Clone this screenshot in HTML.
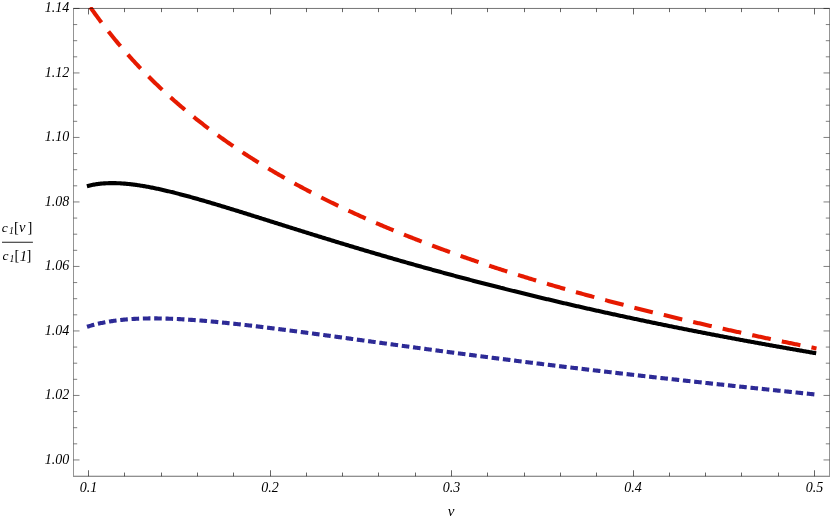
<!DOCTYPE html>
<html><head><meta charset="utf-8"><style>
html,body{margin:0;padding:0;background:#fff;}
svg{display:block;will-change:transform;}
text{font-family:"Liberation Serif",serif;font-style:italic;fill:#000;}
</style></head><body>
<svg width="830" height="519" viewBox="0 0 830 519">
<rect width="830" height="519" fill="#fff"/>
<defs><clipPath id="c"><rect x="73.5" y="7.05" width="756.5" height="469.2"/></clipPath></defs>
<g clip-path="url(#c)" fill="none" stroke-width="4.1" stroke-linejoin="round">
<path d="M87.00 326.81 L88.00 326.50 L89.00 326.19 L90.00 325.89 L91.00 325.60 L92.00 325.31 L93.00 325.04 L94.00 324.77 L95.00 324.51 L96.00 324.25 L97.00 324.01 L98.00 323.77 L99.00 323.54 L100.00 323.31 L101.00 323.10 L102.00 322.88 L103.00 322.68 L104.00 322.48 L105.00 322.29 L106.00 322.10 L107.00 321.92 L108.00 321.74 L109.00 321.58 L110.00 321.41 L111.00 321.25 L112.00 321.10 L113.00 320.95 L114.00 320.81 L115.00 320.67 L116.00 320.54 L117.00 320.41 L118.00 320.29 L119.00 320.17 L120.00 320.06 L121.00 319.95 L122.00 319.85 L123.00 319.75 L124.00 319.65 L125.00 319.56 L126.00 319.47 L127.00 319.39 L128.00 319.31 L129.00 319.23 L130.00 319.16 L131.00 319.09 L132.00 319.02 L133.00 318.96 L134.00 318.91 L135.00 318.85 L136.00 318.80 L137.00 318.75 L138.00 318.71 L139.00 318.67 L140.00 318.63 L141.00 318.60 L142.00 318.56 L143.00 318.54 L144.00 318.51 L145.00 318.49 L146.00 318.47 L147.00 318.45 L148.00 318.43 L149.00 318.42 L150.00 318.41 L151.00 318.41 L152.00 318.40 L153.00 318.40 L154.00 318.40 L155.00 318.41 L156.00 318.41 L157.00 318.42 L158.00 318.43 L159.00 318.44 L160.00 318.46 L161.00 318.47 L162.00 318.49 L163.00 318.51 L164.00 318.54 L165.00 318.56 L166.00 318.59 L167.00 318.62 L168.00 318.65 L169.00 318.68 L170.00 318.72 L171.00 318.76 L172.00 318.79 L173.00 318.84 L174.00 318.88 L175.00 318.92 L176.00 318.97 L177.00 319.01 L178.00 319.06 L179.00 319.11 L180.00 319.17 L181.00 319.22 L182.00 319.27 L183.00 319.33 L184.00 319.39 L185.00 319.45 L186.00 319.51 L187.00 319.57 L188.00 319.64 L189.00 319.70 L190.00 319.77 L191.00 319.84 L192.00 319.90 L193.00 319.98 L194.00 320.05 L195.00 320.12 L196.00 320.19 L197.00 320.27 L198.00 320.35 L199.00 320.42 L200.00 320.50 L201.00 320.58 L202.00 320.66 L203.00 320.74 L204.00 320.83 L205.00 320.91 L206.00 321.00 L207.00 321.08 L208.00 321.17 L209.00 321.26 L210.00 321.35 L211.00 321.44 L212.00 321.53 L213.00 321.62 L214.00 321.71 L215.00 321.81 L216.00 321.90 L217.00 322.00 L218.00 322.09 L219.00 322.19 L220.00 322.29 L221.00 322.39 L222.00 322.49 L223.00 322.59 L224.00 322.69 L225.00 322.79 L226.00 322.89 L227.00 322.99 L228.00 323.10 L229.00 323.20 L230.00 323.31 L231.00 323.41 L232.00 323.52 L233.00 323.63 L234.00 323.74 L235.00 323.84 L236.00 323.95 L237.00 324.06 L238.00 324.17 L239.00 324.28 L240.00 324.40 L241.00 324.51 L242.00 324.62 L243.00 324.73 L244.00 324.85 L245.00 324.96 L246.00 325.08 L247.00 325.19 L248.00 325.31 L249.00 325.42 L250.00 325.54 L251.00 325.66 L252.00 325.78 L253.00 325.89 L254.00 326.01 L255.00 326.13 L256.00 326.25 L257.00 326.37 L258.00 326.49 L259.00 326.61 L260.00 326.73 L261.00 326.86 L262.00 326.98 L263.00 327.10 L264.00 327.22 L265.00 327.35 L266.00 327.47 L267.00 327.59 L268.00 327.72 L269.00 327.84 L270.00 327.97 L271.00 328.09 L272.00 328.22 L273.00 328.35 L274.00 328.47 L275.00 328.60 L276.00 328.73 L277.00 328.85 L278.00 328.98 L279.00 329.11 L280.00 329.24 L281.00 329.36 L282.00 329.49 L283.00 329.62 L284.00 329.75 L285.00 329.88 L286.00 330.01 L287.00 330.14 L288.00 330.27 L289.00 330.40 L290.00 330.53 L291.00 330.66 L292.00 330.79 L293.00 330.92 L294.00 331.06 L295.00 331.19 L296.00 331.32 L297.00 331.45 L298.00 331.58 L299.00 331.72 L300.00 331.85 L301.00 331.98 L302.00 332.11 L303.00 332.25 L304.00 332.38 L305.00 332.51 L306.00 332.65 L307.00 332.78 L308.00 332.92 L309.00 333.05 L310.00 333.18 L311.00 333.32 L312.00 333.45 L313.00 333.59 L314.00 333.72 L315.00 333.86 L316.00 333.99 L317.00 334.13 L318.00 334.26 L319.00 334.40 L320.00 334.53 L321.00 334.67 L322.00 334.80 L323.00 334.94 L324.00 335.08 L325.00 335.21 L326.00 335.35 L327.00 335.48 L328.00 335.62 L329.00 335.76 L330.00 335.89 L331.00 336.03 L332.00 336.17 L333.00 336.30 L334.00 336.44 L335.00 336.58 L336.00 336.71 L337.00 336.85 L338.00 336.99 L339.00 337.12 L340.00 337.26 L341.00 337.40 L342.00 337.53 L343.00 337.67 L344.00 337.81 L345.00 337.95 L346.00 338.08 L347.00 338.22 L348.00 338.36 L349.00 338.50 L350.00 338.63 L351.00 338.77 L352.00 338.91 L353.00 339.05 L354.00 339.18 L355.00 339.32 L356.00 339.46 L357.00 339.60 L358.00 339.73 L359.00 339.87 L360.00 340.01 L361.00 340.15 L362.00 340.28 L363.00 340.42 L364.00 340.56 L365.00 340.70 L366.00 340.83 L367.00 340.97 L368.00 341.11 L369.00 341.25 L370.00 341.38 L371.00 341.52 L372.00 341.66 L373.00 341.80 L374.00 341.93 L375.00 342.07 L376.00 342.21 L377.00 342.35 L378.00 342.48 L379.00 342.62 L380.00 342.76 L381.00 342.90 L382.00 343.03 L383.00 343.17 L384.00 343.31 L385.00 343.44 L386.00 343.58 L387.00 343.72 L388.00 343.86 L389.00 343.99 L390.00 344.13 L391.00 344.27 L392.00 344.40 L393.00 344.54 L394.00 344.68 L395.00 344.81 L396.00 344.95 L397.00 345.09 L398.00 345.22 L399.00 345.36 L400.00 345.50 L401.00 345.63 L402.00 345.77 L403.00 345.91 L404.00 346.04 L405.00 346.18 L406.00 346.32 L407.00 346.45 L408.00 346.59 L409.00 346.72 L410.00 346.86 L411.00 347.00 L412.00 347.13 L413.00 347.27 L414.00 347.40 L415.00 347.54 L416.00 347.67 L417.00 347.81 L418.00 347.95 L419.00 348.08 L420.00 348.22 L421.00 348.35 L422.00 348.49 L423.00 348.62 L424.00 348.76 L425.00 348.89 L426.00 349.03 L427.00 349.16 L428.00 349.30 L429.00 349.43 L430.00 349.57 L431.00 349.70 L432.00 349.83 L433.00 349.97 L434.00 350.10 L435.00 350.24 L436.00 350.37 L437.00 350.50 L438.00 350.64 L439.00 350.77 L440.00 350.91 L441.00 351.04 L442.00 351.17 L443.00 351.31 L444.00 351.44 L445.00 351.57 L446.00 351.71 L447.00 351.84 L448.00 351.97 L449.00 352.11 L450.00 352.24 L451.00 352.37 L452.00 352.50 L453.00 352.64 L454.00 352.77 L455.00 352.90 L456.00 353.03 L457.00 353.17 L458.00 353.30 L459.00 353.43 L460.00 353.56 L461.00 353.69 L462.00 353.83 L463.00 353.96 L464.00 354.09 L465.00 354.22 L466.00 354.35 L467.00 354.48 L468.00 354.61 L469.00 354.75 L470.00 354.88 L471.00 355.01 L472.00 355.14 L473.00 355.27 L474.00 355.40 L475.00 355.53 L476.00 355.66 L477.00 355.79 L478.00 355.92 L479.00 356.05 L480.00 356.18 L481.00 356.31 L482.00 356.44 L483.00 356.57 L484.00 356.70 L485.00 356.83 L486.00 356.96 L487.00 357.09 L488.00 357.22 L489.00 357.35 L490.00 357.47 L491.00 357.60 L492.00 357.73 L493.00 357.86 L494.00 357.99 L495.00 358.12 L496.00 358.25 L497.00 358.37 L498.00 358.50 L499.00 358.63 L500.00 358.76 L501.00 358.89 L502.00 359.01 L503.00 359.14 L504.00 359.27 L505.00 359.40 L506.00 359.52 L507.00 359.65 L508.00 359.78 L509.00 359.90 L510.00 360.03 L511.00 360.16 L512.00 360.28 L513.00 360.41 L514.00 360.54 L515.00 360.66 L516.00 360.79 L517.00 360.92 L518.00 361.04 L519.00 361.17 L520.00 361.29 L521.00 361.42 L522.00 361.55 L523.00 361.67 L524.00 361.80 L525.00 361.92 L526.00 362.05 L527.00 362.17 L528.00 362.30 L529.00 362.42 L530.00 362.55 L531.00 362.67 L532.00 362.79 L533.00 362.92 L534.00 363.04 L535.00 363.17 L536.00 363.29 L537.00 363.42 L538.00 363.54 L539.00 363.66 L540.00 363.79 L541.00 363.91 L542.00 364.03 L543.00 364.16 L544.00 364.28 L545.00 364.40 L546.00 364.53 L547.00 364.65 L548.00 364.77 L549.00 364.89 L550.00 365.02 L551.00 365.14 L552.00 365.26 L553.00 365.38 L554.00 365.51 L555.00 365.63 L556.00 365.75 L557.00 365.87 L558.00 365.99 L559.00 366.11 L560.00 366.24 L561.00 366.36 L562.00 366.48 L563.00 366.60 L564.00 366.72 L565.00 366.84 L566.00 366.96 L567.00 367.08 L568.00 367.20 L569.00 367.32 L570.00 367.44 L571.00 367.57 L572.00 367.69 L573.00 367.81 L574.00 367.93 L575.00 368.05 L576.00 368.16 L577.00 368.28 L578.00 368.40 L579.00 368.52 L580.00 368.64 L581.00 368.76 L582.00 368.88 L583.00 369.00 L584.00 369.12 L585.00 369.24 L586.00 369.36 L587.00 369.48 L588.00 369.59 L589.00 369.71 L590.00 369.83 L591.00 369.95 L592.00 370.07 L593.00 370.19 L594.00 370.30 L595.00 370.42 L596.00 370.54 L597.00 370.66 L598.00 370.77 L599.00 370.89 L600.00 371.01 L601.00 371.13 L602.00 371.24 L603.00 371.36 L604.00 371.48 L605.00 371.59 L606.00 371.71 L607.00 371.83 L608.00 371.94 L609.00 372.06 L610.00 372.18 L611.00 372.29 L612.00 372.41 L613.00 372.53 L614.00 372.64 L615.00 372.76 L616.00 372.87 L617.00 372.99 L618.00 373.10 L619.00 373.22 L620.00 373.34 L621.00 373.45 L622.00 373.57 L623.00 373.68 L624.00 373.80 L625.00 373.91 L626.00 374.03 L627.00 374.14 L628.00 374.25 L629.00 374.37 L630.00 374.48 L631.00 374.60 L632.00 374.71 L633.00 374.83 L634.00 374.94 L635.00 375.05 L636.00 375.17 L637.00 375.28 L638.00 375.40 L639.00 375.51 L640.00 375.62 L641.00 375.74 L642.00 375.85 L643.00 375.96 L644.00 376.08 L645.00 376.19 L646.00 376.30 L647.00 376.42 L648.00 376.53 L649.00 376.64 L650.00 376.75 L651.00 376.87 L652.00 376.98 L653.00 377.09 L654.00 377.20 L655.00 377.32 L656.00 377.43 L657.00 377.54 L658.00 377.65 L659.00 377.76 L660.00 377.88 L661.00 377.99 L662.00 378.10 L663.00 378.21 L664.00 378.32 L665.00 378.43 L666.00 378.55 L667.00 378.66 L668.00 378.77 L669.00 378.88 L670.00 378.99 L671.00 379.10 L672.00 379.21 L673.00 379.32 L674.00 379.43 L675.00 379.54 L676.00 379.65 L677.00 379.77 L678.00 379.88 L679.00 379.99 L680.00 380.10 L681.00 380.21 L682.00 380.32 L683.00 380.43 L684.00 380.54 L685.00 380.65 L686.00 380.76 L687.00 380.87 L688.00 380.98 L689.00 381.08 L690.00 381.19 L691.00 381.30 L692.00 381.41 L693.00 381.52 L694.00 381.63 L695.00 381.74 L696.00 381.85 L697.00 381.96 L698.00 382.07 L699.00 382.18 L700.00 382.29 L701.00 382.39 L702.00 382.50 L703.00 382.61 L704.00 382.72 L705.00 382.83 L706.00 382.94 L707.00 383.05 L708.00 383.15 L709.00 383.26 L710.00 383.37 L711.00 383.48 L712.00 383.59 L713.00 383.69 L714.00 383.80 L715.00 383.91 L716.00 384.02 L717.00 384.12 L718.00 384.23 L719.00 384.34 L720.00 384.45 L721.00 384.55 L722.00 384.66 L723.00 384.77 L724.00 384.88 L725.00 384.98 L726.00 385.09 L727.00 385.20 L728.00 385.31 L729.00 385.41 L730.00 385.52 L731.00 385.63 L732.00 385.73 L733.00 385.84 L734.00 385.95 L735.00 386.05 L736.00 386.16 L737.00 386.27 L738.00 386.37 L739.00 386.48 L740.00 386.59 L741.00 386.69 L742.00 386.80 L743.00 386.90 L744.00 387.01 L745.00 387.12 L746.00 387.22 L747.00 387.33 L748.00 387.43 L749.00 387.54 L750.00 387.65 L751.00 387.75 L752.00 387.86 L753.00 387.96 L754.00 388.07 L755.00 388.17 L756.00 388.28 L757.00 388.39 L758.00 388.49 L759.00 388.60 L760.00 388.70 L761.00 388.81 L762.00 388.91 L763.00 389.02 L764.00 389.12 L765.00 389.23 L766.00 389.33 L767.00 389.44 L768.00 389.54 L769.00 389.65 L770.00 389.75 L771.00 389.86 L772.00 389.96 L773.00 390.07 L774.00 390.17 L775.00 390.28 L776.00 390.38 L777.00 390.49 L778.00 390.59 L779.00 390.70 L780.00 390.80 L781.00 390.90 L782.00 391.01 L783.00 391.11 L784.00 391.22 L785.00 391.32 L786.00 391.43 L787.00 391.53 L788.00 391.64 L789.00 391.74 L790.00 391.84 L791.00 391.95 L792.00 392.05 L793.00 392.16 L794.00 392.26 L795.00 392.36 L796.00 392.47 L797.00 392.57 L798.00 392.68 L799.00 392.78 L800.00 392.88 L801.00 392.99 L802.00 393.09 L803.00 393.20 L804.00 393.30 L805.00 393.40 L806.00 393.51 L807.00 393.61 L808.00 393.72 L809.00 393.82 L810.00 393.92 L811.00 394.03 L812.00 394.13 L813.00 394.23 L814.00 394.34 L815.00 394.44" stroke="rgb(45,42,150)" stroke-dasharray="7.6 3.73"/>
<path d="M86.90 186.17 L87.90 185.91 L88.90 185.66 L89.90 185.43 L90.90 185.21 L91.90 185.00 L92.90 184.80 L93.90 184.62 L94.90 184.45 L95.90 184.29 L96.90 184.14 L97.90 184.00 L98.90 183.87 L99.90 183.76 L100.90 183.65 L101.90 183.56 L102.90 183.47 L103.90 183.40 L104.90 183.33 L105.90 183.27 L106.90 183.22 L107.90 183.18 L108.90 183.15 L109.90 183.13 L110.90 183.12 L111.90 183.11 L112.90 183.11 L113.90 183.12 L114.90 183.13 L115.90 183.16 L116.90 183.19 L117.90 183.22 L118.90 183.27 L119.90 183.32 L120.90 183.38 L121.90 183.44 L122.90 183.51 L123.90 183.58 L124.90 183.66 L125.90 183.75 L126.90 183.84 L127.90 183.94 L128.90 184.04 L129.90 184.15 L130.90 184.26 L131.90 184.38 L132.90 184.50 L133.90 184.63 L134.90 184.76 L135.90 184.90 L136.90 185.04 L137.90 185.19 L138.90 185.34 L139.90 185.49 L140.90 185.65 L141.90 185.81 L142.90 185.98 L143.90 186.14 L144.90 186.32 L145.90 186.49 L146.90 186.67 L147.90 186.86 L148.90 187.04 L149.90 187.23 L150.90 187.43 L151.90 187.62 L152.90 187.82 L153.90 188.03 L154.90 188.23 L155.90 188.44 L156.90 188.65 L157.90 188.87 L158.90 189.08 L159.90 189.30 L160.90 189.52 L161.90 189.75 L162.90 189.97 L163.90 190.20 L164.90 190.43 L165.90 190.67 L166.90 190.90 L167.90 191.14 L168.90 191.38 L169.90 191.62 L170.90 191.87 L171.90 192.11 L172.90 192.36 L173.90 192.61 L174.90 192.87 L175.90 193.12 L176.90 193.37 L177.90 193.63 L178.90 193.89 L179.90 194.15 L180.90 194.41 L181.90 194.68 L182.90 194.94 L183.90 195.21 L184.90 195.48 L185.90 195.75 L186.90 196.02 L187.90 196.29 L188.90 196.56 L189.90 196.84 L190.90 197.12 L191.90 197.39 L192.90 197.67 L193.90 197.95 L194.90 198.23 L195.90 198.52 L196.90 198.80 L197.90 199.08 L198.90 199.37 L199.90 199.66 L200.90 199.94 L201.90 200.23 L202.90 200.52 L203.90 200.81 L204.90 201.10 L205.90 201.39 L206.90 201.69 L207.90 201.98 L208.90 202.28 L209.90 202.57 L210.90 202.87 L211.90 203.16 L212.90 203.46 L213.90 203.76 L214.90 204.06 L215.90 204.36 L216.90 204.66 L217.90 204.96 L218.90 205.26 L219.90 205.56 L220.90 205.87 L221.90 206.17 L222.90 206.47 L223.90 206.78 L224.90 207.08 L225.90 207.39 L226.90 207.69 L227.90 208.00 L228.90 208.30 L229.90 208.61 L230.90 208.92 L231.90 209.23 L232.90 209.54 L233.90 209.84 L234.90 210.15 L235.90 210.46 L236.90 210.77 L237.90 211.08 L238.90 211.39 L239.90 211.70 L240.90 212.01 L241.90 212.32 L242.90 212.64 L243.90 212.95 L244.90 213.26 L245.90 213.57 L246.90 213.88 L247.90 214.20 L248.90 214.51 L249.90 214.82 L250.90 215.14 L251.90 215.45 L252.90 215.76 L253.90 216.08 L254.90 216.39 L255.90 216.70 L256.90 217.02 L257.90 217.33 L258.90 217.65 L259.90 217.96 L260.90 218.27 L261.90 218.59 L262.90 218.90 L263.90 219.22 L264.90 219.53 L265.90 219.85 L266.90 220.16 L267.90 220.48 L268.90 220.79 L269.90 221.11 L270.90 221.42 L271.90 221.74 L272.90 222.05 L273.90 222.37 L274.90 222.68 L275.90 223.00 L276.90 223.31 L277.90 223.63 L278.90 223.94 L279.90 224.26 L280.90 224.57 L281.90 224.88 L282.90 225.20 L283.90 225.51 L284.90 225.83 L285.90 226.14 L286.90 226.46 L287.90 226.77 L288.90 227.09 L289.90 227.40 L290.90 227.71 L291.90 228.03 L292.90 228.34 L293.90 228.65 L294.90 228.97 L295.90 229.28 L296.90 229.59 L297.90 229.91 L298.90 230.22 L299.90 230.53 L300.90 230.85 L301.90 231.16 L302.90 231.47 L303.90 231.78 L304.90 232.09 L305.90 232.41 L306.90 232.72 L307.90 233.03 L308.90 233.34 L309.90 233.65 L310.90 233.96 L311.90 234.27 L312.90 234.59 L313.90 234.90 L314.90 235.21 L315.90 235.52 L316.90 235.83 L317.90 236.14 L318.90 236.44 L319.90 236.75 L320.90 237.06 L321.90 237.37 L322.90 237.68 L323.90 237.99 L324.90 238.30 L325.90 238.60 L326.90 238.91 L327.90 239.22 L328.90 239.53 L329.90 239.83 L330.90 240.14 L331.90 240.45 L332.90 240.75 L333.90 241.06 L334.90 241.37 L335.90 241.67 L336.90 241.98 L337.90 242.28 L338.90 242.59 L339.90 242.89 L340.90 243.19 L341.90 243.50 L342.90 243.80 L343.90 244.11 L344.90 244.41 L345.90 244.71 L346.90 245.01 L347.90 245.32 L348.90 245.62 L349.90 245.92 L350.90 246.22 L351.90 246.52 L352.90 246.82 L353.90 247.13 L354.90 247.43 L355.90 247.73 L356.90 248.03 L357.90 248.33 L358.90 248.63 L359.90 248.92 L360.90 249.22 L361.90 249.52 L362.90 249.82 L363.90 250.12 L364.90 250.41 L365.90 250.71 L366.90 251.01 L367.90 251.31 L368.90 251.60 L369.90 251.90 L370.90 252.19 L371.90 252.49 L372.90 252.78 L373.90 253.08 L374.90 253.37 L375.90 253.67 L376.90 253.96 L377.90 254.26 L378.90 254.55 L379.90 254.84 L380.90 255.13 L381.90 255.43 L382.90 255.72 L383.90 256.01 L384.90 256.30 L385.90 256.59 L386.90 256.88 L387.90 257.17 L388.90 257.46 L389.90 257.75 L390.90 258.04 L391.90 258.33 L392.90 258.62 L393.90 258.91 L394.90 259.20 L395.90 259.49 L396.90 259.77 L397.90 260.06 L398.90 260.35 L399.90 260.63 L400.90 260.92 L401.90 261.21 L402.90 261.49 L403.90 261.78 L404.90 262.06 L405.90 262.35 L406.90 262.63 L407.90 262.91 L408.90 263.20 L409.90 263.48 L410.90 263.76 L411.90 264.05 L412.90 264.33 L413.90 264.61 L414.90 264.89 L415.90 265.17 L416.90 265.46 L417.90 265.74 L418.90 266.02 L419.90 266.30 L420.90 266.58 L421.90 266.86 L422.90 267.13 L423.90 267.41 L424.90 267.69 L425.90 267.97 L426.90 268.25 L427.90 268.52 L428.90 268.80 L429.90 269.08 L430.90 269.35 L431.90 269.63 L432.90 269.91 L433.90 270.18 L434.90 270.46 L435.90 270.73 L436.90 271.00 L437.90 271.28 L438.90 271.55 L439.90 271.83 L440.90 272.10 L441.90 272.37 L442.90 272.64 L443.90 272.92 L444.90 273.19 L445.90 273.46 L446.90 273.73 L447.90 274.00 L448.90 274.27 L449.90 274.54 L450.90 274.81 L451.90 275.08 L452.90 275.35 L453.90 275.62 L454.90 275.88 L455.90 276.15 L456.90 276.42 L457.90 276.69 L458.90 276.95 L459.90 277.22 L460.90 277.49 L461.90 277.75 L462.90 278.02 L463.90 278.28 L464.90 278.55 L465.90 278.81 L466.90 279.08 L467.90 279.34 L468.90 279.60 L469.90 279.87 L470.90 280.13 L471.90 280.39 L472.90 280.65 L473.90 280.92 L474.90 281.18 L475.90 281.44 L476.90 281.70 L477.90 281.96 L478.90 282.22 L479.90 282.48 L480.90 282.74 L481.90 283.00 L482.90 283.26 L483.90 283.51 L484.90 283.77 L485.90 284.03 L486.90 284.29 L487.90 284.55 L488.90 284.80 L489.90 285.06 L490.90 285.31 L491.90 285.57 L492.90 285.83 L493.90 286.08 L494.90 286.34 L495.90 286.59 L496.90 286.84 L497.90 287.10 L498.90 287.35 L499.90 287.60 L500.90 287.86 L501.90 288.11 L502.90 288.36 L503.90 288.61 L504.90 288.87 L505.90 289.12 L506.90 289.37 L507.90 289.62 L508.90 289.87 L509.90 290.12 L510.90 290.37 L511.90 290.62 L512.90 290.87 L513.90 291.11 L514.90 291.36 L515.90 291.61 L516.90 291.86 L517.90 292.11 L518.90 292.35 L519.90 292.60 L520.90 292.84 L521.90 293.09 L522.90 293.34 L523.90 293.58 L524.90 293.83 L525.90 294.07 L526.90 294.32 L527.90 294.56 L528.90 294.80 L529.90 295.05 L530.90 295.29 L531.90 295.53 L532.90 295.78 L533.90 296.02 L534.90 296.26 L535.90 296.50 L536.90 296.74 L537.90 296.98 L538.90 297.22 L539.90 297.46 L540.90 297.70 L541.90 297.94 L542.90 298.18 L543.90 298.42 L544.90 298.66 L545.90 298.90 L546.90 299.14 L547.90 299.37 L548.90 299.61 L549.90 299.85 L550.90 300.08 L551.90 300.32 L552.90 300.56 L553.90 300.79 L554.90 301.03 L555.90 301.26 L556.90 301.50 L557.90 301.73 L558.90 301.97 L559.90 302.20 L560.90 302.43 L561.90 302.67 L562.90 302.90 L563.90 303.13 L564.90 303.37 L565.90 303.60 L566.90 303.83 L567.90 304.06 L568.90 304.29 L569.90 304.52 L570.90 304.75 L571.90 304.98 L572.90 305.21 L573.90 305.44 L574.90 305.67 L575.90 305.90 L576.90 306.13 L577.90 306.36 L578.90 306.59 L579.90 306.81 L580.90 307.04 L581.90 307.27 L582.90 307.50 L583.90 307.72 L584.90 307.95 L585.90 308.17 L586.90 308.40 L587.90 308.63 L588.90 308.85 L589.90 309.08 L590.90 309.30 L591.90 309.52 L592.90 309.75 L593.90 309.97 L594.90 310.20 L595.90 310.42 L596.90 310.64 L597.90 310.86 L598.90 311.09 L599.90 311.31 L600.90 311.53 L601.90 311.75 L602.90 311.97 L603.90 312.19 L604.90 312.41 L605.90 312.63 L606.90 312.85 L607.90 313.07 L608.90 313.29 L609.90 313.51 L610.90 313.73 L611.90 313.95 L612.90 314.17 L613.90 314.38 L614.90 314.60 L615.90 314.82 L616.90 315.04 L617.90 315.25 L618.90 315.47 L619.90 315.68 L620.90 315.90 L621.90 316.12 L622.90 316.33 L623.90 316.55 L624.90 316.76 L625.90 316.98 L626.90 317.19 L627.90 317.40 L628.90 317.62 L629.90 317.83 L630.90 318.04 L631.90 318.26 L632.90 318.47 L633.90 318.68 L634.90 318.89 L635.90 319.10 L636.90 319.32 L637.90 319.53 L638.90 319.74 L639.90 319.95 L640.90 320.16 L641.90 320.37 L642.90 320.58 L643.90 320.79 L644.90 321.00 L645.90 321.21 L646.90 321.41 L647.90 321.62 L648.90 321.83 L649.90 322.04 L650.90 322.25 L651.90 322.45 L652.90 322.66 L653.90 322.87 L654.90 323.07 L655.90 323.28 L656.90 323.49 L657.90 323.69 L658.90 323.90 L659.90 324.10 L660.90 324.31 L661.90 324.51 L662.90 324.72 L663.90 324.92 L664.90 325.13 L665.90 325.33 L666.90 325.53 L667.90 325.74 L668.90 325.94 L669.90 326.14 L670.90 326.34 L671.90 326.55 L672.90 326.75 L673.90 326.95 L674.90 327.15 L675.90 327.35 L676.90 327.55 L677.90 327.75 L678.90 327.95 L679.90 328.15 L680.90 328.35 L681.90 328.55 L682.90 328.75 L683.90 328.95 L684.90 329.15 L685.90 329.35 L686.90 329.55 L687.90 329.74 L688.90 329.94 L689.90 330.14 L690.90 330.34 L691.90 330.53 L692.90 330.73 L693.90 330.93 L694.90 331.12 L695.90 331.32 L696.90 331.52 L697.90 331.71 L698.90 331.91 L699.90 332.10 L700.90 332.30 L701.90 332.49 L702.90 332.69 L703.90 332.88 L704.90 333.07 L705.90 333.27 L706.90 333.46 L707.90 333.65 L708.90 333.85 L709.90 334.04 L710.90 334.23 L711.90 334.42 L712.90 334.62 L713.90 334.81 L714.90 335.00 L715.90 335.19 L716.90 335.38 L717.90 335.57 L718.90 335.76 L719.90 335.95 L720.90 336.14 L721.90 336.33 L722.90 336.52 L723.90 336.71 L724.90 336.90 L725.90 337.09 L726.90 337.28 L727.90 337.47 L728.90 337.66 L729.90 337.84 L730.90 338.03 L731.90 338.22 L732.90 338.41 L733.90 338.59 L734.90 338.78 L735.90 338.97 L736.90 339.15 L737.90 339.34 L738.90 339.53 L739.90 339.71 L740.90 339.90 L741.90 340.08 L742.90 340.27 L743.90 340.45 L744.90 340.64 L745.90 340.82 L746.90 341.01 L747.90 341.19 L748.90 341.37 L749.90 341.56 L750.90 341.74 L751.90 341.92 L752.90 342.11 L753.90 342.29 L754.90 342.47 L755.90 342.65 L756.90 342.84 L757.90 343.02 L758.90 343.20 L759.90 343.38 L760.90 343.56 L761.90 343.74 L762.90 343.92 L763.90 344.10 L764.90 344.28 L765.90 344.47 L766.90 344.65 L767.90 344.82 L768.90 345.00 L769.90 345.18 L770.90 345.36 L771.90 345.54 L772.90 345.72 L773.90 345.90 L774.90 346.08 L775.90 346.26 L776.90 346.43 L777.90 346.61 L778.90 346.79 L779.90 346.97 L780.90 347.14 L781.90 347.32 L782.90 347.50 L783.90 347.67 L784.90 347.85 L785.90 348.03 L786.90 348.20 L787.90 348.38 L788.90 348.55 L789.90 348.73 L790.90 348.90 L791.90 349.08 L792.90 349.25 L793.90 349.43 L794.90 349.60 L795.90 349.78 L796.90 349.95 L797.90 350.12 L798.90 350.30 L799.90 350.47 L800.90 350.64 L801.90 350.82 L802.90 350.99 L803.90 351.16 L804.90 351.33 L805.90 351.51 L806.90 351.68 L807.90 351.85 L808.90 352.02 L809.90 352.19 L810.90 352.36 L811.90 352.54 L812.90 352.71 L813.90 352.88 L814.90 353.05 L815.90 353.22 L816.20 353.27" stroke="#000"/>
<path d="M90.30 7.20 L91.30 8.62 L92.30 10.03 L93.30 11.42 L94.30 12.81 L95.30 14.19 L96.30 15.55 L97.30 16.91 L98.30 18.27 L99.30 19.61 L100.30 20.94 L101.30 22.27 L102.30 23.58 L103.30 24.89 L104.30 26.19 L105.30 27.48 L106.30 28.76 L107.30 30.04 L108.30 31.31 L109.30 32.57 L110.30 33.82 L111.30 35.06 L112.30 36.30 L113.30 37.53 L114.30 38.75 L115.30 39.96 L116.30 41.17 L117.30 42.37 L118.30 43.56 L119.30 44.74 L120.30 45.92 L121.30 47.09 L122.30 48.25 L123.30 49.41 L124.30 50.56 L125.30 51.70 L126.30 52.84 L127.30 53.97 L128.30 55.09 L129.30 56.21 L130.30 57.32 L131.30 58.42 L132.30 59.52 L133.30 60.61 L134.30 61.70 L135.30 62.78 L136.30 63.85 L137.30 64.92 L138.30 65.98 L139.30 67.04 L140.30 68.08 L141.30 69.13 L142.30 70.17 L143.30 71.20 L144.30 72.23 L145.30 73.25 L146.30 74.26 L147.30 75.27 L148.30 76.28 L149.30 77.28 L150.30 78.27 L151.30 79.26 L152.30 80.25 L153.30 81.22 L154.30 82.20 L155.30 83.17 L156.30 84.13 L157.30 85.09 L158.30 86.04 L159.30 86.99 L160.30 87.93 L161.30 88.87 L162.30 89.81 L163.30 90.74 L164.30 91.66 L165.30 92.58 L166.30 93.50 L167.30 94.41 L168.30 95.32 L169.30 96.22 L170.30 97.12 L171.30 98.01 L172.30 98.90 L173.30 99.78 L174.30 100.67 L175.30 101.54 L176.30 102.41 L177.30 103.28 L178.30 104.15 L179.30 105.01 L180.30 105.86 L181.30 106.71 L182.30 107.56 L183.30 108.40 L184.30 109.24 L185.30 110.08 L186.30 110.91 L187.30 111.74 L188.30 112.56 L189.30 113.38 L190.30 114.20 L191.30 115.01 L192.30 115.82 L193.30 116.63 L194.30 117.43 L195.30 118.23 L196.30 119.03 L197.30 119.82 L198.30 120.61 L199.30 121.39 L200.30 122.17 L201.30 122.95 L202.30 123.72 L203.30 124.50 L204.30 125.26 L205.30 126.03 L206.30 126.79 L207.30 127.55 L208.30 128.30 L209.30 129.05 L210.30 129.80 L211.30 130.55 L212.30 131.29 L213.30 132.03 L214.30 132.76 L215.30 133.49 L216.30 134.22 L217.30 134.95 L218.30 135.67 L219.30 136.39 L220.30 137.11 L221.30 137.83 L222.30 138.54 L223.30 139.25 L224.30 139.95 L225.30 140.66 L226.30 141.36 L227.30 142.06 L228.30 142.75 L229.30 143.44 L230.30 144.13 L231.30 144.82 L232.30 145.50 L233.30 146.18 L234.30 146.86 L235.30 147.54 L236.30 148.21 L237.30 148.88 L238.30 149.55 L239.30 150.22 L240.30 150.88 L241.30 151.54 L242.30 152.20 L243.30 152.85 L244.30 153.51 L245.30 154.16 L246.30 154.81 L247.30 155.45 L248.30 156.10 L249.30 156.74 L250.30 157.37 L251.30 158.01 L252.30 158.64 L253.30 159.28 L254.30 159.91 L255.30 160.53 L256.30 161.16 L257.30 161.78 L258.30 162.40 L259.30 163.02 L260.30 163.63 L261.30 164.25 L262.30 164.86 L263.30 165.47 L264.30 166.07 L265.30 166.68 L266.30 167.28 L267.30 167.88 L268.30 168.48 L269.30 169.08 L270.30 169.67 L271.30 170.26 L272.30 170.85 L273.30 171.44 L274.30 172.03 L275.30 172.61 L276.30 173.20 L277.30 173.78 L278.30 174.35 L279.30 174.93 L280.30 175.50 L281.30 176.08 L282.30 176.65 L283.30 177.22 L284.30 177.78 L285.30 178.35 L286.30 178.91 L287.30 179.47 L288.30 180.03 L289.30 180.59 L290.30 181.14 L291.30 181.70 L292.30 182.25 L293.30 182.80 L294.30 183.35 L295.30 183.89 L296.30 184.44 L297.30 184.98 L298.30 185.52 L299.30 186.06 L300.30 186.60 L301.30 187.13 L302.30 187.67 L303.30 188.20 L304.30 188.73 L305.30 189.26 L306.30 189.79 L307.30 190.32 L308.30 190.84 L309.30 191.36 L310.30 191.88 L311.30 192.40 L312.30 192.92 L313.30 193.44 L314.30 193.95 L315.30 194.47 L316.30 194.98 L317.30 195.49 L318.30 196.00 L319.30 196.50 L320.30 197.01 L321.30 197.51 L322.30 198.01 L323.30 198.51 L324.30 199.01 L325.30 199.51 L326.30 200.01 L327.30 200.50 L328.30 201.00 L329.30 201.49 L330.30 201.98 L331.30 202.47 L332.30 202.96 L333.30 203.44 L334.30 203.93 L335.30 204.41 L336.30 204.89 L337.30 205.37 L338.30 205.85 L339.30 206.33 L340.30 206.81 L341.30 207.28 L342.30 207.76 L343.30 208.23 L344.30 208.70 L345.30 209.17 L346.30 209.64 L347.30 210.10 L348.30 210.57 L349.30 211.03 L350.30 211.50 L351.30 211.96 L352.30 212.42 L353.30 212.88 L354.30 213.34 L355.30 213.79 L356.30 214.25 L357.30 214.70 L358.30 215.16 L359.30 215.61 L360.30 216.06 L361.30 216.51 L362.30 216.96 L363.30 217.40 L364.30 217.85 L365.30 218.29 L366.30 218.74 L367.30 219.18 L368.30 219.62 L369.30 220.06 L370.30 220.50 L371.30 220.93 L372.30 221.37 L373.30 221.81 L374.30 222.24 L375.30 222.67 L376.30 223.10 L377.30 223.53 L378.30 223.96 L379.30 224.39 L380.30 224.82 L381.30 225.25 L382.30 225.67 L383.30 226.09 L384.30 226.52 L385.30 226.94 L386.30 227.36 L387.30 227.78 L388.30 228.20 L389.30 228.61 L390.30 229.03 L391.30 229.45 L392.30 229.86 L393.30 230.27 L394.30 230.68 L395.30 231.10 L396.30 231.51 L397.30 231.91 L398.30 232.32 L399.30 232.73 L400.30 233.14 L401.30 233.54 L402.30 233.94 L403.30 234.35 L404.30 234.75 L405.30 235.15 L406.30 235.55 L407.30 235.95 L408.30 236.35 L409.30 236.74 L410.30 237.14 L411.30 237.53 L412.30 237.93 L413.30 238.32 L414.30 238.71 L415.30 239.11 L416.30 239.50 L417.30 239.88 L418.30 240.27 L419.30 240.66 L420.30 241.05 L421.30 241.43 L422.30 241.82 L423.30 242.20 L424.30 242.58 L425.30 242.97 L426.30 243.35 L427.30 243.73 L428.30 244.11 L429.30 244.49 L430.30 244.86 L431.30 245.24 L432.30 245.62 L433.30 245.99 L434.30 246.36 L435.30 246.74 L436.30 247.11 L437.30 247.48 L438.30 247.85 L439.30 248.22 L440.30 248.59 L441.30 248.96 L442.30 249.33 L443.30 249.69 L444.30 250.06 L445.30 250.42 L446.30 250.79 L447.30 251.15 L448.30 251.51 L449.30 251.87 L450.30 252.23 L451.30 252.59 L452.30 252.95 L453.30 253.31 L454.30 253.67 L455.30 254.02 L456.30 254.38 L457.30 254.74 L458.30 255.09 L459.30 255.44 L460.30 255.80 L461.30 256.15 L462.30 256.50 L463.30 256.85 L464.30 257.20 L465.30 257.55 L466.30 257.90 L467.30 258.24 L468.30 258.59 L469.30 258.94 L470.30 259.28 L471.30 259.63 L472.30 259.97 L473.30 260.31 L474.30 260.65 L475.30 261.00 L476.30 261.34 L477.30 261.68 L478.30 262.02 L479.30 262.35 L480.30 262.69 L481.30 263.03 L482.30 263.37 L483.30 263.70 L484.30 264.04 L485.30 264.37 L486.30 264.70 L487.30 265.04 L488.30 265.37 L489.30 265.70 L490.30 266.03 L491.30 266.36 L492.30 266.69 L493.30 267.02 L494.30 267.35 L495.30 267.68 L496.30 268.00 L497.30 268.33 L498.30 268.65 L499.30 268.98 L500.30 269.30 L501.30 269.63 L502.30 269.95 L503.30 270.27 L504.30 270.59 L505.30 270.91 L506.30 271.23 L507.30 271.55 L508.30 271.87 L509.30 272.19 L510.30 272.51 L511.30 272.82 L512.30 273.14 L513.30 273.46 L514.30 273.77 L515.30 274.09 L516.30 274.40 L517.30 274.71 L518.30 275.03 L519.30 275.34 L520.30 275.65 L521.30 275.96 L522.30 276.27 L523.30 276.58 L524.30 276.89 L525.30 277.20 L526.30 277.50 L527.30 277.81 L528.30 278.12 L529.30 278.42 L530.30 278.73 L531.30 279.03 L532.30 279.34 L533.30 279.64 L534.30 279.95 L535.30 280.25 L536.30 280.55 L537.30 280.85 L538.30 281.15 L539.30 281.45 L540.30 281.75 L541.30 282.05 L542.30 282.35 L543.30 282.65 L544.30 282.94 L545.30 283.24 L546.30 283.54 L547.30 283.83 L548.30 284.13 L549.30 284.42 L550.30 284.72 L551.30 285.01 L552.30 285.30 L553.30 285.60 L554.30 285.89 L555.30 286.18 L556.30 286.47 L557.30 286.76 L558.30 287.05 L559.30 287.34 L560.30 287.63 L561.30 287.91 L562.30 288.20 L563.30 288.49 L564.30 288.78 L565.30 289.06 L566.30 289.35 L567.30 289.63 L568.30 289.92 L569.30 290.20 L570.30 290.48 L571.30 290.77 L572.30 291.05 L573.30 291.33 L574.30 291.61 L575.30 291.89 L576.30 292.18 L577.30 292.46 L578.30 292.73 L579.30 293.01 L580.30 293.29 L581.30 293.57 L582.30 293.85 L583.30 294.12 L584.30 294.40 L585.30 294.68 L586.30 294.95 L587.30 295.23 L588.30 295.50 L589.30 295.78 L590.30 296.05 L591.30 296.32 L592.30 296.60 L593.30 296.87 L594.30 297.14 L595.30 297.41 L596.30 297.68 L597.30 297.95 L598.30 298.22 L599.30 298.49 L600.30 298.76 L601.30 299.03 L602.30 299.30 L603.30 299.57 L604.30 299.83 L605.30 300.10 L606.30 300.37 L607.30 300.63 L608.30 300.90 L609.30 301.16 L610.30 301.43 L611.30 301.69 L612.30 301.95 L613.30 302.22 L614.30 302.48 L615.30 302.74 L616.30 303.00 L617.30 303.27 L618.30 303.53 L619.30 303.79 L620.30 304.05 L621.30 304.31 L622.30 304.57 L623.30 304.83 L624.30 305.08 L625.30 305.34 L626.30 305.60 L627.30 305.86 L628.30 306.11 L629.30 306.37 L630.30 306.63 L631.30 306.88 L632.30 307.14 L633.30 307.39 L634.30 307.65 L635.30 307.90 L636.30 308.15 L637.30 308.41 L638.30 308.66 L639.30 308.91 L640.30 309.16 L641.30 309.42 L642.30 309.67 L643.30 309.92 L644.30 310.17 L645.30 310.42 L646.30 310.67 L647.30 310.92 L648.30 311.16 L649.30 311.41 L650.30 311.66 L651.30 311.91 L652.30 312.16 L653.30 312.40 L654.30 312.65 L655.30 312.90 L656.30 313.14 L657.30 313.39 L658.30 313.63 L659.30 313.88 L660.30 314.12 L661.30 314.36 L662.30 314.61 L663.30 314.85 L664.30 315.09 L665.30 315.34 L666.30 315.58 L667.30 315.82 L668.30 316.06 L669.30 316.30 L670.30 316.54 L671.30 316.78 L672.30 317.02 L673.30 317.26 L674.30 317.50 L675.30 317.74 L676.30 317.98 L677.30 318.22 L678.30 318.45 L679.30 318.69 L680.30 318.93 L681.30 319.17 L682.30 319.40 L683.30 319.64 L684.30 319.87 L685.30 320.11 L686.30 320.34 L687.30 320.58 L688.30 320.81 L689.30 321.05 L690.30 321.28 L691.30 321.51 L692.30 321.75 L693.30 321.98 L694.30 322.21 L695.30 322.44 L696.30 322.68 L697.30 322.91 L698.30 323.14 L699.30 323.37 L700.30 323.60 L701.30 323.83 L702.30 324.06 L703.30 324.29 L704.30 324.52 L705.30 324.75 L706.30 324.97 L707.30 325.20 L708.30 325.43 L709.30 325.66 L710.30 325.89 L711.30 326.11 L712.30 326.34 L713.30 326.56 L714.30 326.79 L715.30 327.02 L716.30 327.24 L717.30 327.47 L718.30 327.69 L719.30 327.92 L720.30 328.14 L721.30 328.36 L722.30 328.59 L723.30 328.81 L724.30 329.03 L725.30 329.26 L726.30 329.48 L727.30 329.70 L728.30 329.92 L729.30 330.14 L730.30 330.36 L731.30 330.59 L732.30 330.81 L733.30 331.03 L734.30 331.25 L735.30 331.47 L736.30 331.68 L737.30 331.90 L738.30 332.12 L739.30 332.34 L740.30 332.56 L741.30 332.78 L742.30 333.00 L743.30 333.21 L744.30 333.43 L745.30 333.65 L746.30 333.86 L747.30 334.08 L748.30 334.30 L749.30 334.51 L750.30 334.73 L751.30 334.94 L752.30 335.16 L753.30 335.37 L754.30 335.59 L755.30 335.80 L756.30 336.01 L757.30 336.23 L758.30 336.44 L759.30 336.65 L760.30 336.87 L761.30 337.08 L762.30 337.29 L763.30 337.50 L764.30 337.71 L765.30 337.93 L766.30 338.14 L767.30 338.35 L768.30 338.56 L769.30 338.77 L770.30 338.98 L771.30 339.19 L772.30 339.40 L773.30 339.61 L774.30 339.82 L775.30 340.03 L776.30 340.24 L777.30 340.44 L778.30 340.65 L779.30 340.86 L780.30 341.07 L781.30 341.28 L782.30 341.48 L783.30 341.69 L784.30 341.90 L785.30 342.10 L786.30 342.31 L787.30 342.52 L788.30 342.72 L789.30 342.93 L790.30 343.13 L791.30 343.34 L792.30 343.54 L793.30 343.75 L794.30 343.95 L795.30 344.15 L796.30 344.36 L797.30 344.56 L798.30 344.77 L799.30 344.97 L800.30 345.17 L801.30 345.37 L802.30 345.58 L803.30 345.78 L804.30 345.98 L805.30 346.18 L806.30 346.38 L807.30 346.59 L808.30 346.79 L809.30 346.99 L810.30 347.19 L811.30 347.39 L812.30 347.59 L813.30 347.79 L814.30 347.99 L815.30 348.19 L816.30 348.39 L816.50 348.43" stroke="rgb(230,26,0)" stroke-dasharray="19 11.24"/>
</g>
<g fill="none" stroke="#000" stroke-width="1">
<path d="M73.0 8.45 H830.0" stroke-opacity="0.55"/>
<path d="M73.0 476.25 H830.0" stroke-opacity="0.58"/>
<path d="M73.5 8.95 V475.75" stroke-opacity="0.42"/>
<path d="M829.5 8.95 V475.75" stroke-opacity="0.42"/>
<path d="M88.50 476.25 v-6.0 M88.50 8.45 v6.0 M124.50 476.25 v-3.7 M124.50 8.45 v3.7 M161.50 476.25 v-3.7 M161.50 8.45 v3.7 M197.50 476.25 v-3.7 M197.50 8.45 v3.7 M233.50 476.25 v-3.7 M233.50 8.45 v3.7 M270.50 476.25 v-6.0 M270.50 8.45 v6.0 M306.50 476.25 v-3.7 M306.50 8.45 v3.7 M342.50 476.25 v-3.7 M342.50 8.45 v3.7 M378.50 476.25 v-3.7 M378.50 8.45 v3.7 M415.50 476.25 v-3.7 M415.50 8.45 v3.7 M451.50 476.25 v-6.0 M451.50 8.45 v6.0 M487.50 476.25 v-3.7 M487.50 8.45 v3.7 M524.50 476.25 v-3.7 M524.50 8.45 v3.7 M560.50 476.25 v-3.7 M560.50 8.45 v3.7 M596.50 476.25 v-3.7 M596.50 8.45 v3.7 M633.50 476.25 v-6.0 M633.50 8.45 v6.0 M669.50 476.25 v-3.7 M669.50 8.45 v3.7 M705.50 476.25 v-3.7 M705.50 8.45 v3.7 M741.50 476.25 v-3.7 M741.50 8.45 v3.7 M778.50 476.25 v-3.7 M778.50 8.45 v3.7 M814.50 476.25 v-6.0 M814.50 8.45 v6.0" stroke-opacity="0.6"/>
<path d="M73.5 459.95 h6.0 M829.5 459.95 h-6.0 M73.5 443.83 h3.7 M829.5 443.83 h-3.7 M73.5 427.70 h3.7 M829.5 427.70 h-3.7 M73.5 411.57 h3.7 M829.5 411.57 h-3.7 M73.5 395.45 h6.0 M829.5 395.45 h-6.0 M73.5 379.32 h3.7 M829.5 379.32 h-3.7 M73.5 363.20 h3.7 M829.5 363.20 h-3.7 M73.5 347.07 h3.7 M829.5 347.07 h-3.7 M73.5 330.95 h6.0 M829.5 330.95 h-6.0 M73.5 314.82 h3.7 M829.5 314.82 h-3.7 M73.5 298.70 h3.7 M829.5 298.70 h-3.7 M73.5 282.57 h3.7 M829.5 282.57 h-3.7 M73.5 266.45 h6.0 M829.5 266.45 h-6.0 M73.5 250.32 h3.7 M829.5 250.32 h-3.7 M73.5 234.20 h3.7 M829.5 234.20 h-3.7 M73.5 218.07 h3.7 M829.5 218.07 h-3.7 M73.5 201.95 h6.0 M829.5 201.95 h-6.0 M73.5 185.82 h3.7 M829.5 185.82 h-3.7 M73.5 169.70 h3.7 M829.5 169.70 h-3.7 M73.5 153.57 h3.7 M829.5 153.57 h-3.7 M73.5 137.45 h6.0 M829.5 137.45 h-6.0 M73.5 121.32 h3.7 M829.5 121.32 h-3.7 M73.5 105.20 h3.7 M829.5 105.20 h-3.7 M73.5 89.07 h3.7 M829.5 89.07 h-3.7 M73.5 72.95 h6.0 M829.5 72.95 h-6.0 M73.5 56.82 h3.7 M829.5 56.82 h-3.7 M73.5 40.70 h3.7 M829.5 40.70 h-3.7 M73.5 24.57 h3.7 M829.5 24.57 h-3.7 M73.5 8.45 h6.0 M829.5 8.45 h-6.0" stroke-opacity="0.5"/>
</g>
<g font-size="14">
<text x="88.50" y="491.6" text-anchor="middle">0.1</text>
<text x="270.00" y="491.6" text-anchor="middle">0.2</text>
<text x="451.50" y="491.6" text-anchor="middle">0.3</text>
<text x="633.00" y="491.6" text-anchor="middle">0.4</text>
<text x="814.50" y="491.6" text-anchor="middle">0.5</text>
<text x="69.3" y="463.65" text-anchor="end">1.00</text>
<text x="69.3" y="399.15" text-anchor="end">1.02</text>
<text x="69.3" y="334.65" text-anchor="end">1.04</text>
<text x="69.3" y="270.15" text-anchor="end">1.06</text>
<text x="69.3" y="205.65" text-anchor="end">1.08</text>
<text x="69.3" y="141.15" text-anchor="end">1.10</text>
<text x="69.3" y="76.65" text-anchor="end">1.12</text>
<text x="69.3" y="12.15" text-anchor="end">1.14</text>
</g>
<g font-size="14.5">
<text x="451.1" y="515.7" text-anchor="middle" font-size="15">&#957;</text>
<text x="1.7" y="231.7" font-size="13.5">c</text>
<text x="9.0" y="233.9" font-size="9.8">1</text>
<text x="14.0" y="231.6" font-size="14.5" style="font-style:normal">[</text>
<text x="19.0" y="231.7" font-size="14.5">&#957;</text>
<text x="27.4" y="231.6" font-size="14.5" style="font-style:normal">]</text>
<text x="2.5" y="260.4" font-size="13.5">c</text>
<text x="9.6" y="262.4" font-size="9.8">1</text>
<text x="14.5" y="260.3" font-size="14.5" style="font-style:normal">[</text>
<text x="19.8" y="260.5" font-size="14.5">1</text>
<text x="26.5" y="260.3" font-size="14.5" style="font-style:normal">]</text>
<path d="M2 242.3 H32.9" stroke="#444" stroke-width="1.2" fill="none"/>
</g>
</svg>
</body></html>
